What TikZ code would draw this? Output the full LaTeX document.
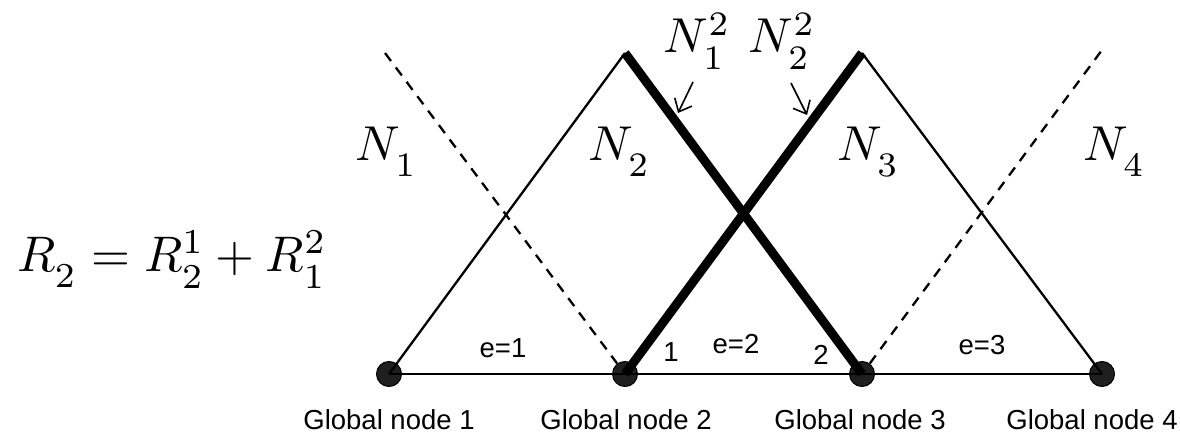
\documentclass[tikz,border=0pt]{standalone}
\usepackage{fontspec}
\setsansfont{Liberation Sans}
\usetikzlibrary{arrows.meta}
\newcommand\lsub[2]{_{\lower#1\hbox{$\scriptstyle #2$}}}
\begin{document}
\begin{tikzpicture}[x=1pt,y=-1pt,
  gnode/.style={circle,draw=black,fill=black!88,line width=1pt,minimum size=25pt,inner sep=0pt},
  thinline/.style={line width=2.3pt},
  thickline/.style={line width=9pt},
  dashline/.style={line width=2.3pt,dash pattern=on 10pt off 8pt},
  lbl/.style={font=\sffamily\fontsize{27.5}{32}\selectfont,inner sep=0pt,anchor=base},
  mlbl/.style={font=\fontsize{10}{12}\selectfont,scale=4.9,inner sep=0pt,anchor=base west},
  ptr/.style={line width=1.6pt,-{Straight Barb[length=11pt,width=19pt]}}]
\useasboundingbox (0,0) rectangle (1180,435);

% peaks
\coordinate (p1) at (385,53);
\coordinate (p2) at (625,53);
\coordinate (p3) at (862,53);
\coordinate (p4) at (1102,50);

% global nodes
\node[gnode] (g1) at (389,374) {};
\node[gnode] (g2) at (625,374) {};
\node[gnode] (g3) at (862,374) {};
\node[gnode] (g4) at (1102,374) {};

% lines
\draw[thinline] (g1.center) -- (g4.center);
\draw[thinline] (g1.center) -- (p2);
\draw[thinline] (p3) -- (g4.center);
\draw[dashline] (p1) -- (g2);
\draw[dashline] (g3) -- (p4);
\draw[thickline,line cap=butt] (p2) -- (g3.center);
\draw[thickline,line cap=butt] (g2.center) -- (p3);

% math labels
\node[mlbl] (n1) at (355,161) {$N\lsub{1.7pt}{1}$};
\node[mlbl] (n2) at (588,161) {$N\lsub{1.7pt}{2}$};
\node[mlbl] (n3) at (837,161) {$N\lsub{1.7pt}{3}$};
\node[mlbl] (n4) at (1083,161) {$N\lsub{1.7pt}{4}$};
\node[mlbl] (n12) at (663,53) {$N^2\lsub{0.8pt}{1}$};
\node[mlbl] (n22) at (748,53) {$N^2\lsub{0.8pt}{2}$};
\node[mlbl,scale=5.0/4.9] (eq) at (16,272)
  {$R\lsub{1.7pt}{2} = R^1\lsub{0.8pt}{2} + R^2\lsub{0.8pt}{1}$};

% pointers
\coordinate (a1s) at (693,82);
\coordinate (a1e) at (678,113);
\coordinate (a2s) at (791,83);
\coordinate (a2e) at (807,115);
\draw[ptr] (a1s) -- (a1e);
\draw[ptr] (a2s) -- (a2e);

% sans labels
\node[lbl] (e1) at (503,357) {e=1};
\node[lbl] (l1) at (671,362) {1};
\node[lbl] (e2) at (736,353) {e=2};
\node[lbl] (l2) at (821,364) {2};
\node[lbl] (e3) at (982,355) {e=3};
\node[lbl] (t1) at (389,429) {Global node 1};
\node[lbl] (t2) at (626,429) {Global node 2};
\node[lbl] (t3) at (860,429) {Global node 3};
\node[lbl] (t4) at (1092,429) {Global node 4};
\end{tikzpicture}
\end{document}
